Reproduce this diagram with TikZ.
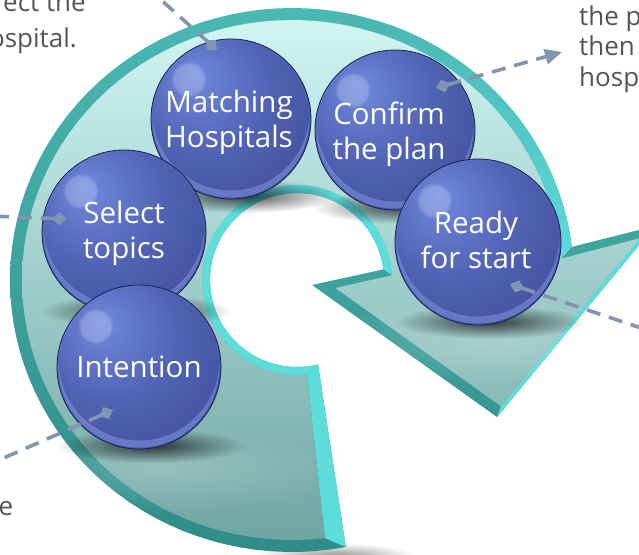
\documentclass[tikz,border=0pt]{standalone}
\usepackage{fontspec}
\setmainfont{Open Sans}
\usetikzlibrary{arrows.meta,fadings}
\definecolor{rimTop}{HTML}{4BB8B3}
\definecolor{rimBot}{HTML}{2F8C88}
\definecolor{bright}{HTML}{5CDCDB}
\definecolor{faceTop}{HTML}{D0F5F3}
\definecolor{faceMid}{HTML}{A9DBD9}
\definecolor{faceBot}{HTML}{6FA5A2}
\definecolor{sphHi}{HTML}{7189DE}
\definecolor{sphMid}{HTML}{5163B4}
\definecolor{sphOut}{HTML}{3E4B95}
\definecolor{sphEdge}{HTML}{2A3370}
\definecolor{sphRim}{HTML}{1C2250}
\definecolor{rimGlow}{HTML}{8698E6}
\definecolor{connc}{HTML}{8194B0}
\definecolor{txtgray}{HTML}{555555}
\pgfdeclareradialshading{glassball}{\pgfpoint{-12bp}{14bp}}{color(0bp)=(sphHi); color(20bp)=(sphMid); color(44bp)=(sphOut); color(58bp)=(sphEdge); color(68bp)=(sphRim)}
\tikzfading[name=softedge, inner color=transparent!0, outer color=transparent!100]
\tikzset{
  ball/.style={circle, inner sep=0pt, minimum size=#1, shade, shading=glassball, draw=sphRim, line width=0.8pt},
  lbl/.style={text=white, align=center, inner sep=0pt, font=\fontsize{29.5}{35}\selectfont},
  side/.style={text=txtgray, inner sep=0pt, font=\fontsize{26}{30.5}\selectfont},
  link/.style={draw=connc, line width=3.6pt, dash pattern=on 14pt off 9pt},
  marker/.style={{Diamond[length=15pt,width=13pt]}-},
}
\newcommand\drawsphere[4]{%
  \fill[black, opacity=.7, path fading=softedge] (#2+12,#3+#4-3) ellipse [x radius=95pt, y radius=17pt];
  \node[ball=2*#4pt] (#1) at (#2,#3) {};
  \begin{scope}
    \clip (#2,#3) circle [radius=#4pt-1.5pt];
    \fill[rimGlow, opacity=.5, even odd rule] (#2,#3) circle [radius=#4pt-1.5pt] (#2,#3-7) circle [radius=#4pt-1.5pt];
  \end{scope}
  \fill[white, opacity=.22, path fading=circle with fuzzy edge 20 percent] (#2-0.53*#4,#3-0.5*#4) circle [radius=18pt];
}
\begin{document}
\begin{tikzpicture}[x=1pt,y=-1pt]
\clip (0,0) rectangle (639,554);
\fill[white] (0,0) rectangle (639,554);
% shadow under the tail
\fill[black, opacity=.45, path fading=softedge] (336,557) ellipse [x radius=80pt, y radius=14pt];
% whole arrow (rim colour)
\shade[top color=rimTop, bottom color=rimBot]
  plot[domain=79:353,samples=90] ({292+282*cos(\x)},{280+272*sin(\x)})
  -- (655,226) -- (497,417) -- (312,285)
  -- plot[domain=353:76,samples=60] ({297+87*cos(\x)},{280+87*sin(\x)}) -- cycle;
% bright outer rim on the right
\shade[top color=rimTop, bottom color=bright]
  plot[domain=290:353,samples=40] ({292+282*cos(\x)},{280+272*sin(\x)})
  -- plot[domain=355.3:290,samples=40] ({292+270*cos(\x)},{280+260*sin(\x)}) -- cycle;
% bright bands: hole wall, tail end, head right edge
\fill[bright]
  plot[domain=353:76,samples=60] ({297+87*cos(\x)},{280+87*sin(\x)})
  -- plot[domain=84:357,samples=60] ({297+95*cos(\x)},{280+95*sin(\x)}) -- cycle;
\fill[bright] (307,374.5) -- (318,364.4) -- (345.8,547) -- (324.9,538.1) -- cycle;
\fill[bright] (655,226) -- (497,417) -- (500.9,406.2) -- (639.8,238.2) -- cycle;
% top face
\shade[top color=faceTop, middle color=faceMid, bottom color=faceBot]
  plot[domain=83:355.3,samples=90] ({292+270*cos(\x)},{280+260*sin(\x)})
  -- (639.8,238.2) -- (500.9,406.2) -- (335.3,288.0) -- (392.9,275.0)
  -- plot[domain=357:84,samples=60] ({297+95*cos(\x)},{280+95*sin(\x)}) -- cycle;
% faint reflections on the face
\fill[white, opacity=.2, path fading=softedge] (158,470) ellipse [x radius=190pt, y radius=44pt];
\fill[white, opacity=.2, path fading=softedge] (495,342) ellipse [x radius=190pt, y radius=44pt];
% spheres
\drawsphere{sConfirm}{395}{130}{80}
\drawsphere{sMatch}{231}{119}{80}
\drawsphere{sSelect}{124}{232}{82}
\drawsphere{sIntent}{139}{367}{82}
\drawsphere{sReady}{478}{242}{83}
% labels
\node[lbl] (lMatch) at (229,122) {Matching\\Hospitals};
\node[lbl] (lConfirm) at (389,134) {Confirm\\the plan};
\node[lbl] (lSelect) at (124,233) {Select\\topics};
\node[lbl] (lReady) at (476,240) {Ready\\for start};
\node[lbl] (lIntent) at (139,367) {Intention};
% connectors
\coordinate (mMatch) at (217,50);   \coordinate (eMatch) at (150,-10);
\coordinate (mConfirm) at (436,88); \coordinate (eConfirm) at (562,52);
\coordinate (mSelect) at (67,219);  \coordinate (eSelect) at (-10,216);
\coordinate (mIntent) at (113,410); \coordinate (eIntent) at (-10,464);
\coordinate (mReady) at (510,284);  \coordinate (eReady) at (650,331);
\draw[link, marker] (mMatch) -- (eMatch);
\draw[link, {Diamond[length=15pt,width=13pt]}-{Triangle[length=17pt,width=15pt]}] (mConfirm) -- (eConfirm);
\draw[link, marker] (mSelect) -- (eSelect);
\draw[link, marker] (mIntent) -- (eIntent);
\draw[link, marker] (mReady) -- (eReady);
% side texts (cut by the picture's edges, as in the reference)
\node[side, anchor=base east] (tLeftA) at (86,12) {ect the};
\node[side, anchor=base east] (tLeftB) at (77,47) {ospital.};
\node[side, anchor=north west, align=left] (tRight) at (579,5.5) {the p\\then\\hosp};
\node[side, anchor=base west] (tBottom) at (-1.5,515) {e};
\end{tikzpicture}
\end{document}
